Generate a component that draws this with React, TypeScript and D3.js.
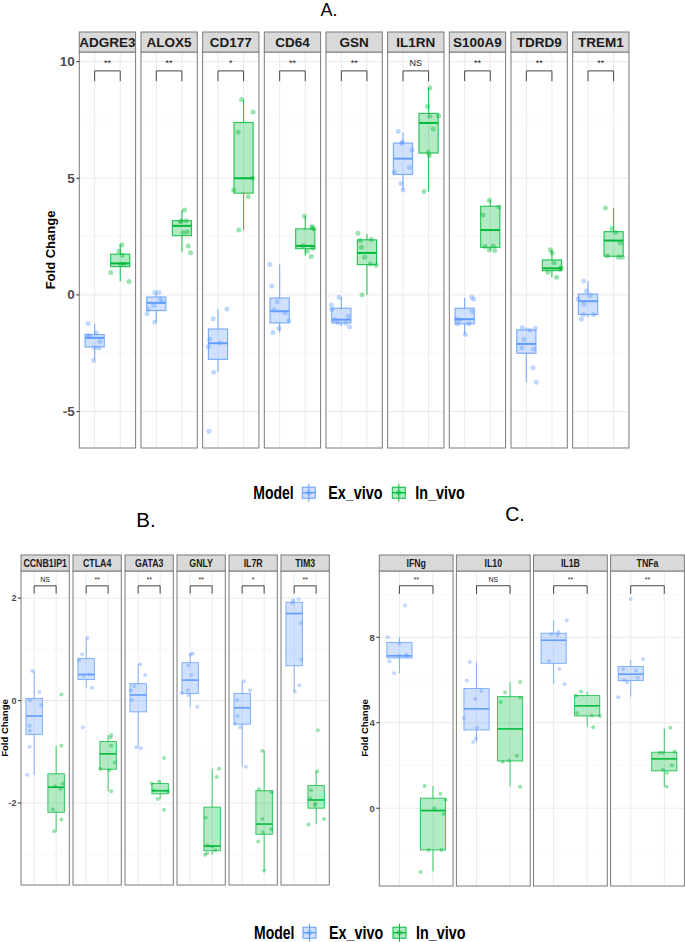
import React from "react";
import * as d3 from "d3";

// ---- data ----
// box stats: [lower whisker, q1, median, q3, upper whisker]
// points: [x jitter (in group units), fold change]

const genesA = ["ADGRE3", "ALOX5", "CD177", "CD64", "GSN", "IL1RN", "S100A9", "TDRD9", "TREM1"];
const sigA = ["**", "**", "*", "**", "**", "NS", "**", "**", "**"];
const exStatsA = [
  [-2.75, -2.23, -1.84, -1.7, -1.24],
  [-1.16, -0.67, -0.34, -0.09, 0.1],
  [-3.31, -2.76, -2.07, -1.46, -0.6],
  [-1.61, -1.2, -0.7, -0.13, 1.3],
  [-1.33, -1.2, -1.06, -0.57, -0.1],
  [4.5, 5.16, 5.84, 6.51, 6.97],
  [-1.7, -1.24, -1.04, -0.57, -0.13],
  [-3.74, -2.5, -2.1, -1.5, -1.4],
  [-0.96, -0.84, -0.27, 0.04, 0.6],
];
const inStatsA = [
  [0.57, 1.21, 1.35, 1.75, 2.16],
  [1.83, 2.54, 2.96, 3.18, 3.64],
  [2.78, 4.36, 5.0, 7.39, 8.37],
  [1.68, 1.98, 2.1, 2.83, 3.37],
  [0.01, 1.3, 1.8, 2.36, 2.61],
  [4.43, 6.08, 7.37, 7.78, 8.87],
  [1.93, 2.04, 2.78, 3.8, 4.08],
  [0.76, 1.04, 1.14, 1.5, 1.94],
  [1.61, 1.66, 2.33, 2.71, 3.73],
];
const exPtsA = [
  [[-0.26, -1.22], [-0.26, -1.74], [0.06, -1.62], [0.2, -2.0], [0.17, -2.27], [0, -2.25], [-0.04, -2.81], [-0.19, -1.77]],
  [[-0.06, 0.1], [0.1, 0.1], [0.16, -0.16], [-0.1, -0.44], [-0.31, -0.63], [-0.36, -0.81], [-0.06, -1.16], [0.23, -0.29]],
  [[0.35, -0.6], [-0.19, -1.02], [-0.32, -1.9], [-0.37, -2.22], [0.06, -2.06], [-0.17, -3.31], [-0.35, -5.84]],
  [[-0.39, 1.3], [-0.31, 0.38], [-0.1, -0.29], [-0.21, -0.63], [0.22, -0.76], [0.36, -1.1], [-0.03, -1.43], [-0.26, -1.61]],
  [[-0.09, -0.1], [-0.39, -0.43], [-0.38, -0.62], [0.27, -0.91], [-0.13, -1.19], [0.17, -1.2], [0.32, -1.36], [-0.25, -1.06]],
  [[-0.19, 7.01], [-0.03, 6.54], [-0.05, 6.5], [0.35, 6.21], [-0.34, 5.27], [0.25, 5.46], [-0.08, 4.78], [0, 4.5]],
  [[0.28, -0.1], [0.35, -0.17], [0.28, -0.7], [-0.32, -1.03], [-0.28, -1.24], [0.17, -1.22], [0.03, -1.7], [-0.19, -1.07]],
  [[-0.16, -1.4], [0.13, -1.5], [0.35, -1.43], [-0.09, -1.91], [-0.17, -2.27], [0.28, -2.32], [0.26, -3.12], [0.39, -3.74]],
  [[-0.17, 0.6], [-0.06, 0.18], [0.09, -0.04], [-0.39, -0.17], [-0.17, -0.4], [-0.17, -0.84], [0.22, -0.84], [-0.26, -1.03]],
];
const inPtsA = [
  [[0.06, 2.14], [-0.05, 1.87], [0.08, 1.7], [-0.37, 0.96], [0.34, 0.57], [0.01, 1.33], [0.14, 1.33]],
  [[0.1, 3.64], [-0.06, 3.15], [0.17, 3.18], [0.05, 2.67], [0.21, 2.7], [0.25, 2.1], [0.34, 1.81], [-0.03, 3.16]],
  [[-0.08, 8.37], [0.37, 7.84], [-0.21, 6.97], [0.35, 5.0], [-0.39, 4.5], [0.18, 4.21], [-0.19, 2.78]],
  [[-0.03, 3.37], [0.27, 2.88], [0.27, 2.93], [0.34, 2.83], [-0.09, 2.11], [0.08, 1.87], [0.23, 1.65], [0.3, 2.0]],
  [[-0.35, 2.64], [-0.26, 2.33], [-0.22, 2.04], [-0.09, 1.61], [-0.19, 0.01], [0.17, 2.37], [0.14, 1.33], [0.36, 1.27]],
  [[0.05, 8.87], [-0.04, 8.07], [0.04, 7.66], [0.39, 7.67], [0.18, 7.11], [-0.01, 6.11], [0.03, 5.97], [-0.18, 4.43]],
  [[-0.04, 4.06], [-0.28, 3.43], [0.34, 3.77], [-0.21, 2.07], [-0.04, 1.93], [0.17, 1.9], [0.12, 2.1]],
  [[-0.06, 1.94], [0.01, 1.8], [0.08, 1.38], [-0.16, 0.97], [0.36, 1.16], [0.33, 1.11], [0.18, 0.76]],
  [[-0.32, 3.73], [-0.06, 2.85], [0.08, 2.67], [0.26, 2.24], [-0.25, 1.67], [0.19, 1.61], [0.34, 1.61]],
];

const genesB = ["CCNB1IP1", "CTLA4", "GATA3", "GNLY", "IL7R", "TIM3"];
const sigB = ["NS", "**", "**", "**", "*", "**"];
const exStatsB = [
  [-1.45, -0.66, -0.3, 0.04, 0.58],
  [0.25, 0.41, 0.51, 0.82, 1.22],
  [-0.91, -0.22, 0.11, 0.33, 0.71],
  [-0.12, 0.14, 0.4, 0.74, 0.92],
  [-1.29, -0.46, -0.14, 0.14, 0.38],
  [0.19, 0.68, 1.7, 1.92, 1.98],
];
const inStatsB = [
  [-2.55, -2.18, -1.69, -1.43, -0.88],
  [-1.77, -1.34, -1.04, -0.8, -0.67],
  [-1.92, -1.82, -1.76, -1.62, -1.58],
  [-3.01, -2.93, -2.84, -2.08, -1.33],
  [-3.32, -2.61, -2.41, -1.76, -0.98],
  [-2.41, -2.1, -1.94, -1.66, -1.38],
];
const exPtsB = [
  [[-0.08, 0.58], [0.24, 0.17], [-0.18, 0.0], [0.32, -0.09], [-0.21, -0.49], [-0.2, -0.59], [-0.21, -0.9], [-0.32, -1.45]],
  [[0.06, 1.22], [-0.18, 0.9], [-0.33, 0.79], [-0.12, 0.48], [0.17, 0.51], [0.26, 0.25], [-0.15, -0.52]],
  [[0.09, 0.71], [0.32, 0.5], [-0.18, 0.28], [-0.33, 0.2], [-0.29, 0.01], [-0.09, -0.91], [0.12, -0.93]],
  [[0.12, 0.92], [0.02, 0.9], [-0.08, 0.69], [0.05, 0.5], [-0.11, 0.2], [-0.38, 0.15], [-0.08, 0.11], [0.33, -0.12]],
  [[0.09, 0.38], [0.35, 0.2], [-0.23, 0.01], [-0.21, -0.3], [-0.33, -0.45], [-0.09, -0.52], [0.17, -1.29]],
  [[0.2, 1.98], [-0.06, 1.96], [-0.09, 1.9], [0.3, 1.51], [0.33, 0.8], [0.24, 0.3], [0.03, 0.18]],
];
const inPtsB = [
  [[0.24, 0.12], [0.24, -0.88], [0.3, -1.62], [-0.05, -1.67], [0.2, -1.72], [-0.15, -2.12], [0.24, -2.32], [-0.09, -2.55]],
  [[0.14, -0.67], [0.11, -0.72], [0.14, -0.88], [0.3, -1.21], [-0.36, -1.33], [0.06, -1.36], [0.14, -1.77]],
  [[0.18, -1.12], [-0.39, -1.62], [-0.05, -1.58], [-0.29, -1.75], [0.36, -1.77], [-0.11, -1.92], [0.18, -2.13]],
  [[0.32, -1.33], [0.21, -1.49], [-0.29, -2.28], [-0.2, -2.83], [0, -2.85], [0.14, -2.92], [-0.32, -3.01], [-0.23, -2.98]],
  [[-0.08, -0.98], [-0.23, -1.73], [0.35, -1.79], [-0.08, -2.31], [-0.05, -2.57], [0.33, -2.51], [-0.27, -2.75], [0, -3.32]],
  [[0.08, -0.58], [0.05, -1.38], [-0.23, -1.75], [-0.26, -1.91], [-0.03, -2.01], [-0.06, -2.05], [-0.35, -2.42], [0.36, -2.31]],
];

const genesC = ["IFNg", "IL10", "IL1B", "TNFa"];
const sigC = ["**", "NS", "**", "**"];
const exStatsC = [
  [6.31, 7.03, 7.13, 7.76, 8.0],
  [3.1, 3.66, 4.65, 5.6, 6.84],
  [5.8, 6.78, 7.86, 8.19, 8.79],
  [5.22, 5.97, 6.27, 6.63, 6.94],
];
const inStatsC = [
  [-2.96, -1.95, -0.11, 0.47, 1.04],
  [1.01, 2.21, 3.71, 5.22, 5.91],
  [3.82, 4.32, 4.79, 5.27, 5.46],
  [1.01, 1.75, 2.31, 2.62, 3.74],
];
const exPtsC = [
  [[0.17, 9.48], [-0.35, 8.0], [0, 7.69], [-0.3, 6.88], [-0.01, 7.13], [0.22, 7.13], [0.2, 7.17], [-0.16, 6.31]],
  [[-0.2, 6.84], [-0.29, 5.97], [0.14, 5.49], [-0.04, 5.11], [-0.38, 4.21], [0.02, 3.77], [-0.02, 3.27], [-0.1, 3.1]],
  [[0.39, 8.79], [0.14, 8.26], [-0.08, 8.14], [0.11, 8.11], [-0.14, 6.89], [0.17, 6.52], [0.32, 5.8]],
  [[0, 9.79], [0.37, 6.97], [-0.23, 6.5], [0.16, 6.44], [-0.2, 6.0], [0.21, 6.11], [-0.11, 5.89], [-0.37, 5.19]],
];
const inPtsC = [
  [[-0.25, 1.04], [0.22, 0.68], [0.38, 0.39], [0.04, 0.0], [0.32, -0.27], [-0.13, -1.95], [0.25, -1.95], [-0.37, -2.98]],
  [[0.3, 5.91], [-0.15, 5.41], [-0.28, 4.97], [0.3, 5.18], [0.2, 2.46], [-0.22, 2.17], [-0.03, 2.23], [0.3, 1.0]],
  [[-0.18, 5.46], [-0.33, 5.27], [-0.3, 4.46], [0.14, 4.33], [0.38, 4.32], [0.18, 3.79]],
  [[0.18, 3.76], [-0.14, 2.6], [-0.04, 2.6], [0.31, 2.65], [0.23, 2.01], [-0.04, 1.8], [0.08, 1.65], [0.07, 1.0]],
];

const models = ["Ex_vivo", "In_vivo"];
const colors = ["#619CFF", "#00BA38"];

const FONT = "'Liberation Sans', Arial, Helvetica, sans-serif";

// scaled text helper (the figure's text is a bit narrow)
const T = ({ x, y, sx = 1, rot = 0, children, ...rest }: any) => (
  <text
    transform={`translate(${x},${y}) rotate(${rot}) scale(${sx},1)`}
    fontFamily={FONT}
    {...rest}
  >
    {children}
  </text>
);

function Facets(props: any) {
  const {
    genes, sig, exStats, inStats, exPts, inPts,
    x0, pw, step, stripTop, stripH, bottom, yLim, ticks,
    bracket, r, lw, mw, stripFont, stripSx, tickFont, sigFont, sigDy, tickLen,
  } = props;
  const top = stripTop + stripH;
  const y = d3.scaleLinear().domain(yLim).range([bottom, top]);
  const major = ticks;
  const minor = major.slice(1).map((t: number, i: number) => (t + major[i]) / 2);
  const lo = major[0] - (major[1] - major[0]) / 2;
  const hi = major[major.length - 1] + (major[1] - major[0]) / 2;
  if (lo > yLim[0]) minor.unshift(lo);
  if (hi < yLim[1]) minor.push(hi);

  return (
    <g>
      {genes.map((g: string, i: number) => {
        const px = x0 + i * step;
        const x = d3.scaleLinear().domain([0.4, 2.6]).range([px, px + pw]);
        const groups = [
          { s: exStats[i], p: exPts[i], c: colors[0], k: 1 },
          { s: inStats[i], p: inPts[i], c: colors[1], k: 2 },
        ];
        return (
          <g key={g}>
            <rect x={px} y={top} width={pw} height={bottom - top} fill="#fff" />
            {minor.map((t: number) => (
              <line key={"mi" + t} x1={px} x2={px + pw} y1={y(t)} y2={y(t)} stroke="#f3f3f3" strokeWidth={0.6} />
            ))}
            {major.map((t: number) => (
              <line key={"ma" + t} x1={px} x2={px + pw} y1={y(t)} y2={y(t)} stroke="#ebebeb" strokeWidth={1} />
            ))}
            {[1, 2].map((k) => (
              <line key={"v" + k} x1={x(k)} x2={x(k)} y1={top} y2={bottom} stroke="#ebebeb" strokeWidth={1} />
            ))}
            {groups.map((gr) => {
              const [mn, q1, md, q3, mx] = gr.s;
              const cx = x(gr.k);
              return (
                <g key={gr.k}>
                  <line x1={cx} x2={cx} y1={y(mx)} y2={y(q3)} stroke={gr.c} strokeWidth={lw} strokeOpacity={0.85} />
                  <line x1={cx} x2={cx} y1={y(q1)} y2={y(mn)} stroke={gr.c} strokeWidth={lw} strokeOpacity={0.85} />
                  <rect
                    x={x(gr.k - 0.375)}
                    y={y(q3)}
                    width={x(gr.k + 0.375) - x(gr.k - 0.375)}
                    height={y(q1) - y(q3)}
                    fill={gr.c}
                    fillOpacity={0.3}
                    stroke={gr.c}
                    strokeOpacity={0.85}
                    strokeWidth={lw}
                  />
                  <line x1={x(gr.k - 0.375)} x2={x(gr.k + 0.375)} y1={y(md)} y2={y(md)} stroke={gr.c} strokeWidth={mw} />
                  {gr.p.map((d: number[], j: number) => (
                    <circle key={j} cx={x(gr.k + d[0])} cy={y(d[1])} r={r} fill={gr.c} fillOpacity={0.4} />
                  ))}
                </g>
              );
            })}
            <path
              d={`M${x(1)},${y(bracket[1])}V${y(bracket[0])}H${x(2)}V${y(bracket[1])}`}
              fill="none"
              stroke="#444"
              strokeWidth={1}
            />
            <T x={x(1.5)} y={y(bracket[0]) - sigDy} textAnchor="middle" fontSize={sigFont} fill="#222">
              {sig[i]}
            </T>
            <rect x={px} y={top} width={pw} height={bottom - top} fill="none" stroke="#7a7a7a" strokeWidth={1} />
            <rect x={px} y={stripTop} width={pw} height={stripH} fill="#d9d9d9" stroke="#7a7a7a" strokeWidth={1} />
            <T
              x={px + pw / 2}
              y={stripTop + stripH / 2}
              sx={stripSx}
              textAnchor="middle"
              dominantBaseline="central"
              fontSize={stripFont}
              fontWeight="bold"
              fill="#1a1a1a"
            >
              {g}
            </T>
          </g>
        );
      })}
      {major.map((t: number) => (
        <g key={"t" + t}>
          <line x1={x0 - tickLen} x2={x0} y1={y(t)} y2={y(t)} stroke="#333" strokeWidth={1} />
          <T
            x={x0 - tickLen - 1.5}
            y={y(t)}
            textAnchor="end"
            dominantBaseline="central"
            fontSize={tickFont}
            fontWeight="bold"
            fill="#4d4d4d"
          >
            {t}
          </T>
        </g>
      ))}
    </g>
  );
}

function Legend({ x, y }: { x: number; y: number }) {
  const keyX = [x + 49, x + 139];
  const txtX = [x + 75, x + 162];
  return (
    <g>
      <T x={x} y={y} sx={0.8} dominantBaseline="central" fontSize={17.5} fontWeight="bold" fill="#000">
        Model
      </T>
      {models.map((m, i) => (
        <g key={m}>
          <line x1={keyX[i] + 6.5} x2={keyX[i] + 6.5} y1={y - 9} y2={y + 9} stroke={colors[i]} strokeWidth={1} />
          <rect x={keyX[i]} y={y - 5.5} width={13} height={11} fill={colors[i]} fillOpacity={0.3} stroke={colors[i]} strokeWidth={1} />
          <line x1={keyX[i]} x2={keyX[i] + 13} y1={y} y2={y} stroke={colors[i]} strokeWidth={1.4} />
          <circle cx={keyX[i] + 6.5} cy={y} r={2.6} fill={colors[i]} fillOpacity={0.45} />
          <T x={txtX[i]} y={y} sx={0.82} dominantBaseline="central" fontSize={17.5} fontWeight="bold" fill="#000">
            {m}
          </T>
        </g>
      ))}
    </g>
  );
}

export default function App() {
  return (
    <svg
      width={685}
      height={942}
      style={{ position: "absolute", left: 0, top: 0, background: "#fff" }}
    >
      <rect width={685} height={942} fill="#fff" />

      {/* panel A */}
      <T x={329} y={16} textAnchor="middle" fontSize={18} fill="#000">A.</T>
      <Facets
        genes={genesA} sig={sigA}
        exStats={exStatsA} inStats={inStatsA} exPts={exPtsA} inPts={inPtsA}
        x0={79.3} pw={56.3} step={61.67} stripTop={32} stripH={20} bottom={448}
        yLim={[-6.56, 10.41]} ticks={[-5, 0, 5, 10]}
        bracket={[9.6, 9.16]} r={2.5} lw={1.1} mw={2} stripFont={13.5} stripSx={1}
        tickFont={13.5} sigFont={9} sigDy={5} tickLen={3}
      />
      <T x={50} y={250} rot={-90} textAnchor="middle" dominantBaseline="central" fontSize={13} fontWeight="bold" fill="#000">
        Fold Change
      </T>
      <Legend x={253.3} y={492.7} />

      {/* panel B */}
      <T x={146} y={526.7} textAnchor="middle" fontSize={20.5} fill="#000">B.</T>
      <Facets
        genes={genesB} sig={sigB}
        exStats={exStatsB} inStats={inStatsB} exPts={exPtsB} inPts={inPtsB}
        x0={21} pw={48.3} step={52.0} stripTop={555} stripH={16} bottom={885}
        yLim={[-3.6, 2.53]} ticks={[-2, 0, 2]}
        bracket={[2.24, 2.09]} r={2} lw={0.9} mw={1.6} stripFont={10} stripSx={0.88}
        tickFont={9} sigFont={7} sigDy={4} tickLen={3}
      />
      <T x={4.5} y={728} rot={-90} textAnchor="middle" dominantBaseline="central" fontSize={9.5} fontWeight="bold" fill="#000">
        Fold Change
      </T>

      {/* panel C */}
      <T x={515} y={520.7} textAnchor="middle" fontSize={19.5} fill="#000">C.</T>
      <Facets
        genes={genesC} sig={sigC}
        exStats={exStatsC} inStats={inStatsC} exPts={exPtsC} inPts={inPtsC}
        x0={379.3} pw={73.8} step={77.1} stripTop={555} stripH={16} bottom={886}
        yLim={[-3.64, 11.1]} ticks={[0, 4, 8]}
        bracket={[10.41, 10.03]} r={2} lw={0.9} mw={1.6} stripFont={10} stripSx={0.88}
        tickFont={9.5} sigFont={7} sigDy={4} tickLen={3}
      />
      <T x={364.5} y={728} rot={-90} textAnchor="middle" dominantBaseline="central" fontSize={9.5} fontWeight="bold" fill="#000">
        Fold Change
      </T>

      <Legend x={254} y={932.7} />
    </svg>
  );
}
